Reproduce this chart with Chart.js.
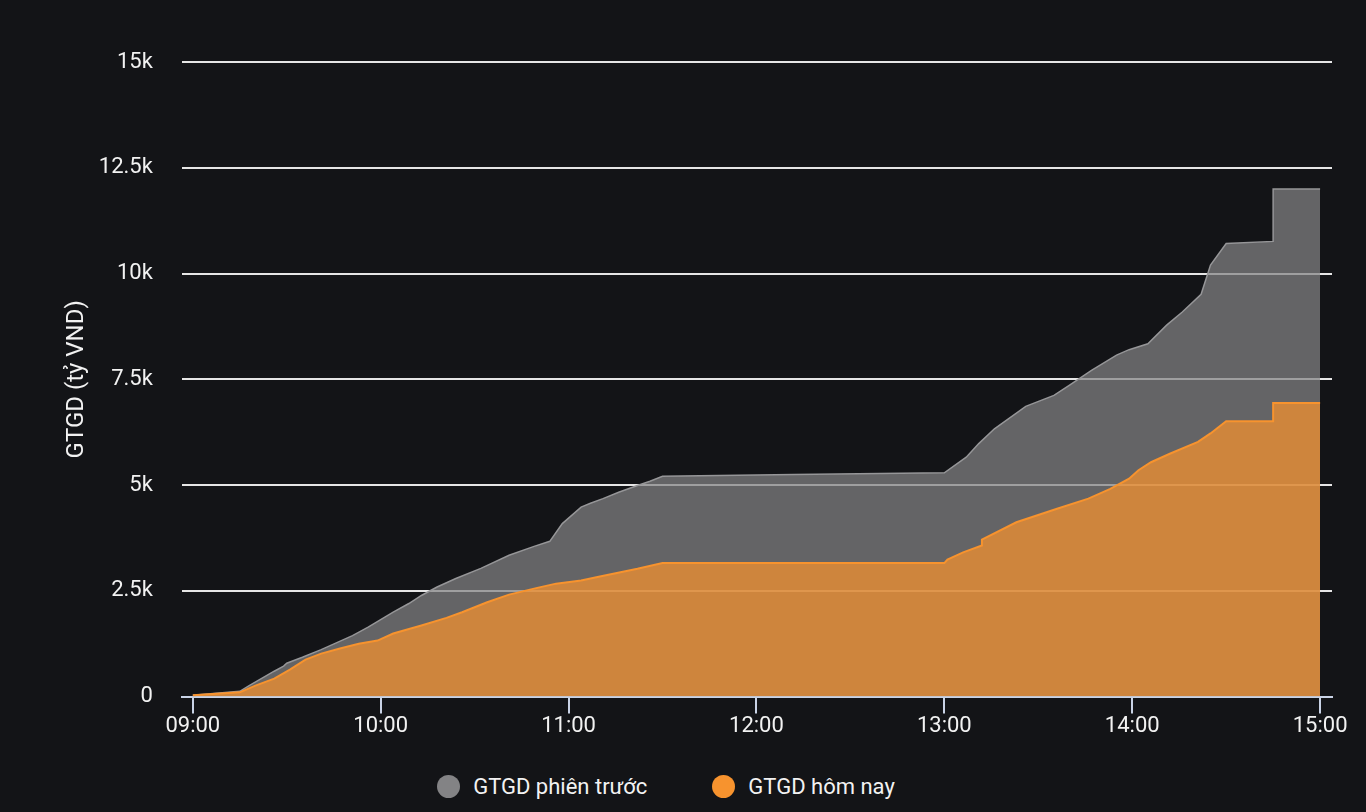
<!DOCTYPE html>
<html>
<head>
<meta charset="utf-8">
<title>GTGD</title>
<script src="https://cdn.jsdelivr.net/npm/chart.js@4.4.1/dist/chart.umd.min.js"></script>
<style>
  html, body { margin: 0; padding: 0; background: #131417; }
  #wrap { width: 1366px; height: 812px; position: relative; overflow: hidden; }
  #chart { display: block; }
  #legend {
    height: 52px;
    display: flex;
    justify-content: center;
    align-items: center;
    gap: 65px;
    padding-right: 34px;
    font-family: Roboto, sans-serif;
    font-size: 22px;
    color: #f2f2f2;
  }
  .item { display: flex; align-items: center; }
  .dot { width: 23px; height: 23px; border-radius: 50%; margin-right: 13px; }
</style>
</head>
<body>
<div id="wrap">
  <canvas id="chart" width="1366" height="760"></canvas>
  <div id="legend"></div>
</div>
<script>
// Series names
const seriesNames = ['GTGD phiên trước', 'GTGD hôm nay'];

// Previous session (tỷ VND, cumulative)
const prevTimes = [
  '09:00', '09:15', '09:18', '09:26', '09:29', '09:30', '09:35', '09:41', '09:51', '09:56',
  '10:00', '10:04', '10:09', '10:13', '10:18', '10:24', '10:32', '10:41', '10:49', '10:54',
  '10:58', '11:04', '11:07', '11:11', '11:16', '11:22', '11:26', '11:30', '12:12', '13:00',
  '13:07', '13:11', '13:16', '13:26', '13:35', '13:40', '13:47', '13:55', '13:59', '14:05',
  '14:11', '14:16', '14:22', '14:25', '14:30', '14:45', '14:45', '15:00',
];
const prevValues = [
  30, 125, 260, 600, 720, 790, 930, 1110, 1440, 1640,
  1820, 1995, 2200, 2390, 2590, 2790, 3030, 3340, 3550, 3670,
  4090, 4480, 4570, 4680, 4830, 4990, 5090, 5210, 5250, 5290,
  5660, 5980, 6330, 6860, 7120, 7360, 7710, 8070, 8200, 8340,
  8780, 9090, 9510, 10200, 10710, 10760, 12000, 12000,
];

// Today (tỷ VND, cumulative)
const todayTimes = [
  '09:00', '09:15', '09:20', '09:26', '09:31', '09:36', '09:41', '09:47', '09:53', '09:59',
  '10:04', '10:13', '10:21', '10:26', '10:34', '10:41', '10:50', '10:56', '11:04', '11:10',
  '11:22', '11:30', '13:00', '13:01', '13:06', '13:12', '13:12', '13:23', '13:36', '13:46',
  '13:53', '13:59', '14:02', '14:06', '14:12', '14:21', '14:25', '14:30', '14:45', '14:45',
  '15:00',
];
const todayValues = [
  30, 100, 260, 425, 640, 875, 1015, 1135, 1250, 1325,
  1490, 1680, 1860, 1995, 2230, 2410, 2570, 2670, 2745, 2840,
  3020, 3155, 3155, 3240, 3410, 3570, 3710, 4120, 4440, 4680,
  4910, 5150, 5350, 5540, 5740, 6020, 6220, 6510, 6510, 6940,
  6940,
];

// Axis ticks
const xTickLabels = ['09:00', '10:00', '11:00', '12:00', '13:00', '14:00', '15:00'];
const yTickValues = [0, 2500, 5000, 7500, 10000, 12500, 15000];

const grayColor = 'rgb(131, 131, 133)';
const orangeColor = 'rgb(247, 147, 46)';

// minutes since 09:00
function toMinutes(t) {
  const [h, m] = t.split(':').map(Number);
  return h * 60 + m - 540;
}

function toPoints(times, values) {
  return times.map((t, i) => ({ x: toMinutes(t), y: values[i] }));
}

const fontFamily = 'Roboto, sans-serif';

const chart = new Chart(document.getElementById('chart'), {
  type: 'line',
  data: {
    datasets: [
      {
        label: seriesNames[0],
        data: toPoints(prevTimes, prevValues),
        borderColor: 'rgb(150, 150, 152)',
        borderWidth: 1.5,
        backgroundColor: 'rgba(131, 131, 133, 0.72)',
        fill: 'origin',
        pointRadius: 0,
        tension: 0,
        order: 2,
      },
      {
        label: seriesNames[1],
        data: toPoints(todayTimes, todayValues),
        borderColor: orangeColor,
        borderWidth: 2,
        backgroundColor: 'rgba(247, 147, 46, 0.73)',
        fill: 'origin',
        pointRadius: 0,
        tension: 0,
        order: 1,
      },
    ],
  },
  options: {
    responsive: false,
    animation: false,
    layout: {
      padding: { left: 63, right: 34, top: 62, bottom: 20 },
    },
    plugins: {
      legend: { display: false },
      tooltip: { enabled: false },
    },
    scales: {
      x: {
        type: 'linear',
        min: -3.5,
        max: 363.8,
        afterBuildTicks: (scale) => {
          scale.ticks = xTickLabels.map((t) => ({ value: toMinutes(t) }));
        },
        ticks: {
          color: '#f2f2f2',
          font: { family: fontFamily, size: 22 },
          padding: 0,
          maxRotation: 0,
          callback: (v) => {
            const i = xTickLabels.findIndex((t) => toMinutes(t) === v);
            return i >= 0 ? xTickLabels[i] : '';
          },
        },
        grid: {
          drawOnChartArea: false,
          drawTicks: true,
          tickLength: 17,
          color: '#c9d3e6',
          lineWidth: 2,
        },
        border: { display: true, color: '#c9d3e6', width: 2 },
      },
      y: {
        min: 0,
        max: 15000,
        afterBuildTicks: (scale) => {
          scale.ticks = yTickValues.map((v) => ({ value: v }));
        },
        ticks: {
          color: '#f2f2f2',
          font: { family: fontFamily, size: 22 },
          padding: 7,
          callback: (v) => (v === 0 ? '0' : v / 1000 + 'k'),
        },
        grid: {
          color: '#e6e6e6',
          lineWidth: 2,
          drawTicks: true,
          tickLength: 22,
          tickColor: 'rgba(0, 0, 0, 0)',
        },
        border: { display: false },
        title: {
          display: true,
          text: 'GTGD (tỷ VND)',
          color: '#f2f2f2',
          font: { family: fontFamily, size: 24 },
          padding: { top: 0, bottom: 0 },
        },
      },
    },
  },
});

// HTML legend, built from the datasets
const legend = document.getElementById('legend');
[grayColor, orangeColor].forEach((c, i) => {
  const item = document.createElement('div');
  item.className = 'item';
  const dot = document.createElement('span');
  dot.className = 'dot';
  dot.style.background = c;
  const label = document.createElement('span');
  label.textContent = chart.data.datasets[i].label;
  item.appendChild(dot);
  item.appendChild(label);
  legend.appendChild(item);
});
</script>
</body>
</html>
